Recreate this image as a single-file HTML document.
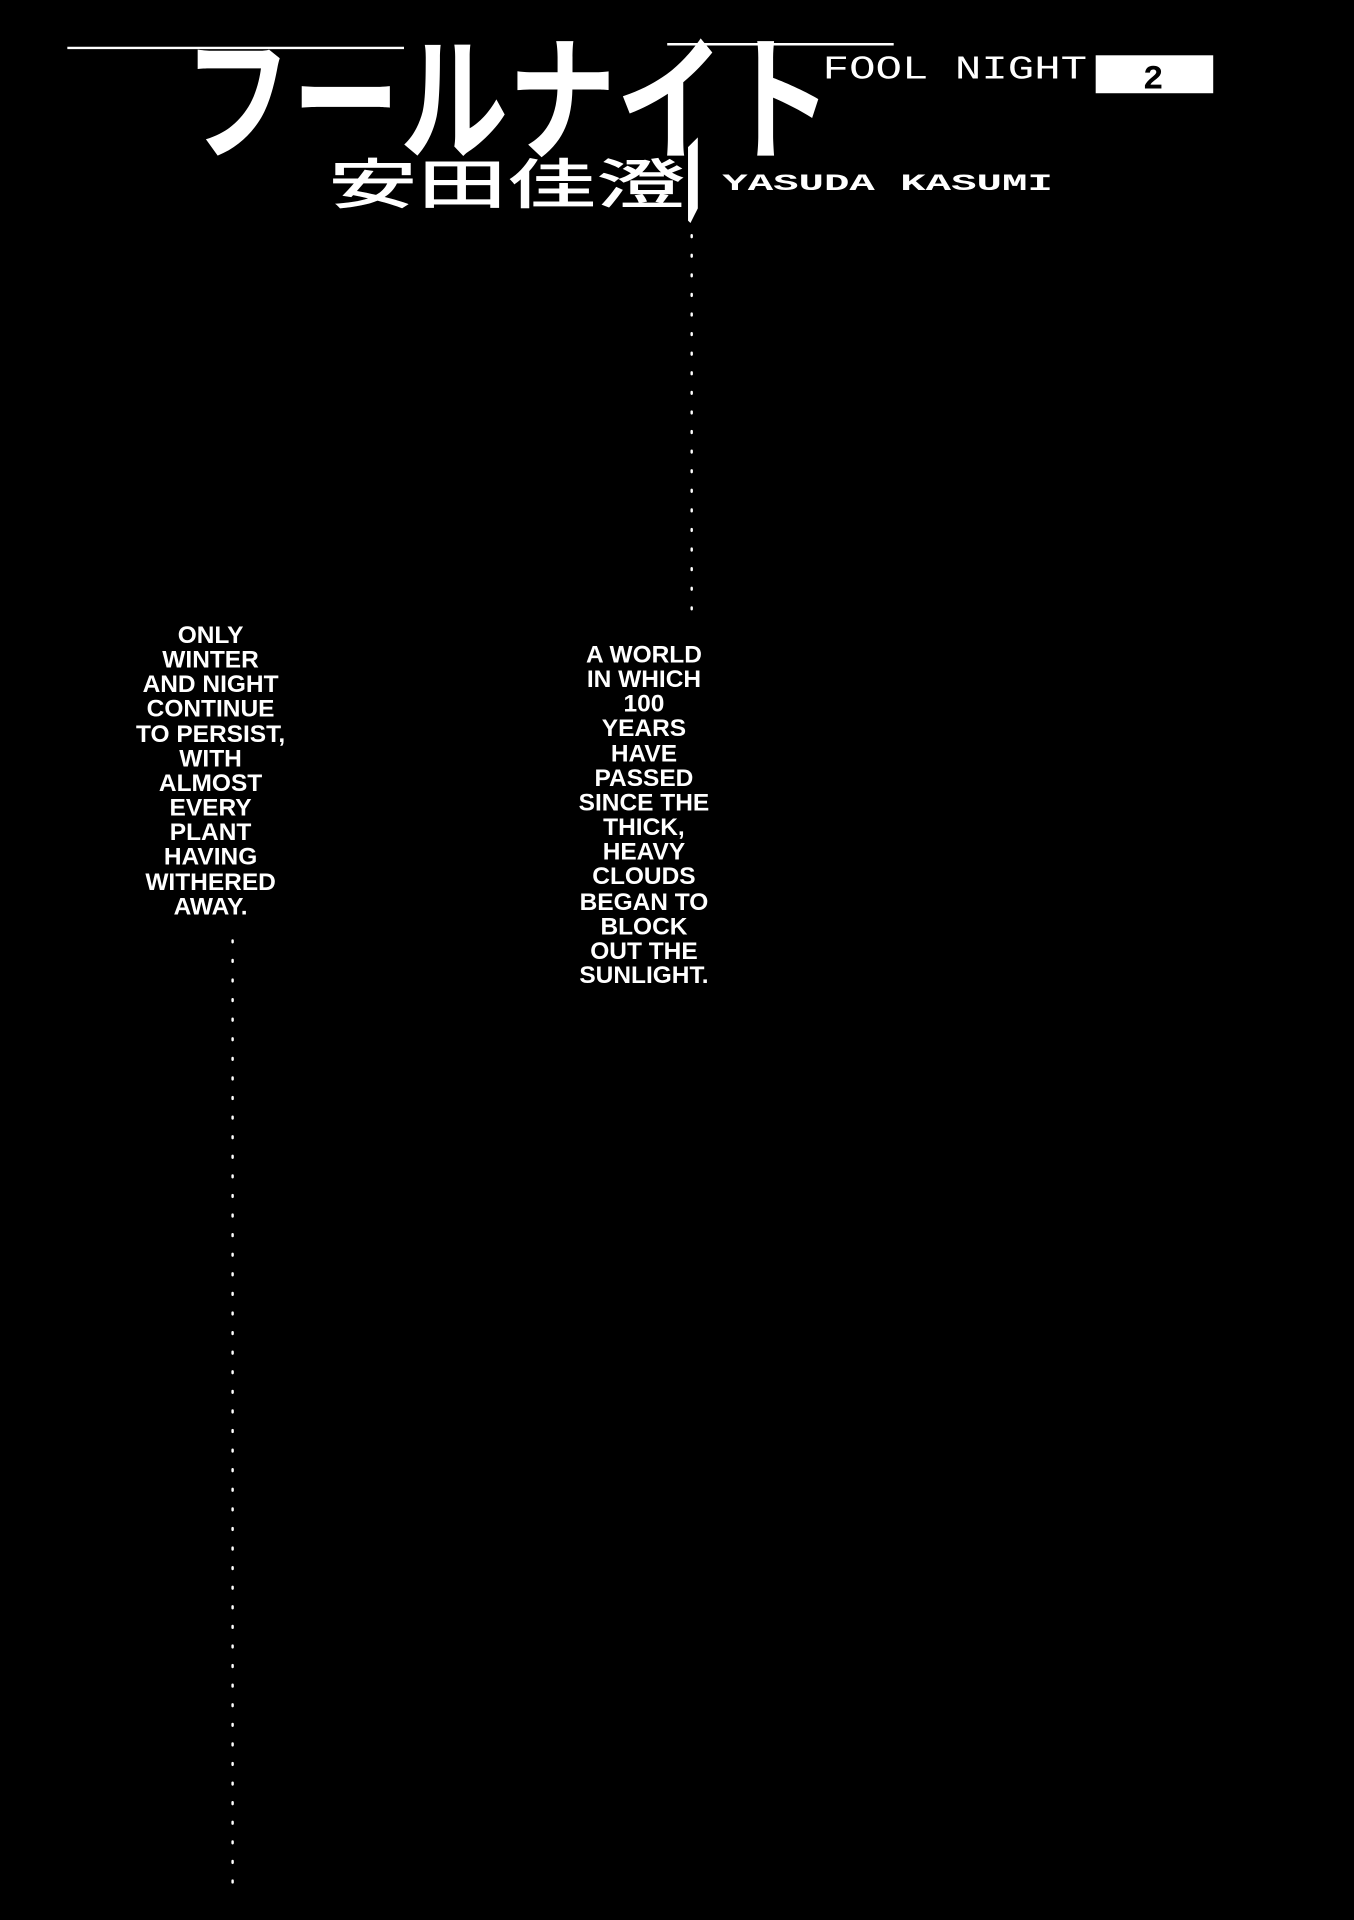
<!DOCTYPE html>
<html><head><meta charset="utf-8"><style>
html,body{margin:0;padding:0;background:#000;width:1354px;height:1920px;overflow:hidden}
svg{display:block}
</style></head><body>
<svg width="1354" height="1920" viewBox="0 0 1106 1568" xmlns="http://www.w3.org/2000/svg">
<rect width="1106" height="1568" fill="#000"/>
<line x1="55" y1="39" x2="330" y2="39" stroke="#fff" stroke-width="2"/>
<line x1="545" y1="36" x2="730" y2="36" stroke="#fff" stroke-width="2"/>
<text x="150" y="122" font-family="Noto Sans CJK JP, sans-serif" font-weight="bold" font-size="112" fill="#fff" textLength="530" lengthAdjust="spacingAndGlyphs">フールナイト</text>
<text x="672" y="64" font-family="Liberation Mono, monospace" font-size="27" fill="#fff" textLength="216" lengthAdjust="spacingAndGlyphs">FOOL NIGHT</text>
<rect x="895" y="45" width="96" height="31" fill="#fff"/>
<text x="942" y="72" text-anchor="middle" font-family="Liberation Mono, monospace" font-weight="bold" font-size="28" fill="#000">2</text>
<text x="268" y="166" font-family="Noto Sans CJK JP, sans-serif" font-weight="500" font-size="44" fill="#fff" textLength="292" lengthAdjust="spacingAndGlyphs">安田佳澄</text>
<polygon points="562,120 570,112 570,170 564,182 562,180" fill="#fff"/>
<text x="590" y="155" font-family="Liberation Mono, monospace" font-weight="bold" font-size="19" fill="#fff" textLength="270" lengthAdjust="spacingAndGlyphs">YASUDA KASUMI</text>
<line x1="565" y1="192" x2="565" y2="512" stroke="#fff" stroke-width="2" stroke-dasharray="1.5 14.5" stroke-linecap="round"/>
<line x1="190" y1="768" x2="190" y2="1542" stroke="#fff" stroke-width="2" stroke-dasharray="1.5 14.5" stroke-linecap="round"/>
<g font-family="Liberation Sans, sans-serif" font-weight="bold" font-size="20" fill="#fff" text-anchor="middle">
<text x="172" y="525">ONLY</text>
<text x="172" y="545">WINTER</text>
<text x="172" y="565">AND NIGHT</text>
<text x="172" y="585">CONTINUE</text>
<text x="172" y="606">TO PERSIST,</text>
<text x="172" y="626">WITH</text>
<text x="172" y="646">ALMOST</text>
<text x="172" y="666">EVERY</text>
<text x="172" y="686">PLANT</text>
<text x="172" y="706">HAVING</text>
<text x="172" y="727">WITHERED</text>
<text x="172" y="747">AWAY.</text>
<text x="526" y="541">A WORLD</text>
<text x="526" y="561">IN WHICH</text>
<text x="526" y="581">100</text>
<text x="526" y="601">YEARS</text>
<text x="526" y="622">HAVE</text>
<text x="526" y="642">PASSED</text>
<text x="526" y="662">SINCE THE</text>
<text x="526" y="682">THICK,</text>
<text x="526" y="702">HEAVY</text>
<text x="526" y="722">CLOUDS</text>
<text x="526" y="743">BEGAN TO</text>
<text x="526" y="763">BLOCK</text>
<text x="526" y="783">OUT THE</text>
<text x="526" y="803">SUNLIGHT.</text>
</g>
</svg>
</body></html>
